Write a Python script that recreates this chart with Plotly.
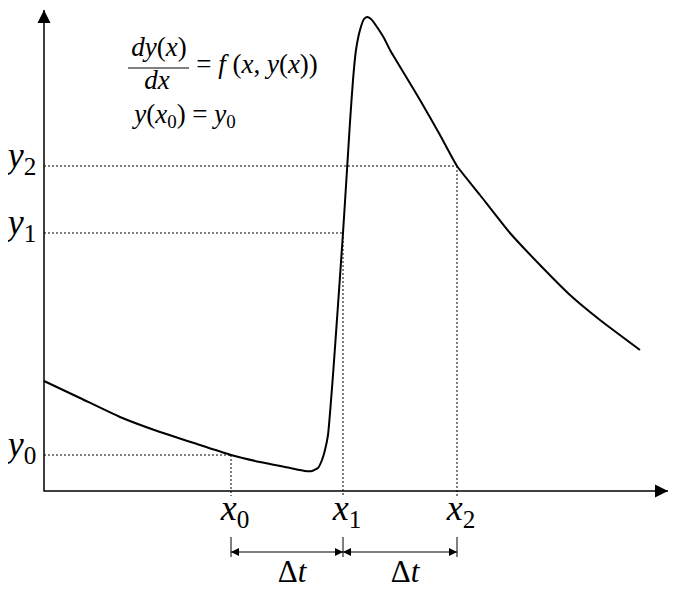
import plotly.graph_objects as go

# Curve samples (data units; origin at the axes' intersection)
curve_x = [0, 36, 76, 116, 156, 187, 216, 246, 261, 268, 274, 278, 281, 284, 289, 294, 299,
           303, 306, 309, 312, 316, 320, 323, 327, 333, 340, 346, 361, 376, 396, 413, 436,
           466, 496, 526, 556, 596]
curve_y = [110, 93, 74, 59, 46, 36, 29, 23, 20, 20, 23, 31, 41, 56, 116, 186, 258,
           321, 369, 411, 441, 461, 472, 474, 472, 464, 453, 441, 416, 391, 356, 325, 296,
           258, 226, 196, 171, 141]

# Marked steps
x_marks = [187, 299, 413]
y_marks = [36, 258, 325]
x_labels = ["<i>x</i><sub>0</sub>", "<i>x</i><sub>1</sub>", "<i>x</i><sub>2</sub>"]
y_labels = ["<i>y</i><sub>0</sub>", "<i>y</i><sub>1</sub>", "<i>y</i><sub>2</sub>"]
step_label = "Δ<i>t</i>"
eq_texts = ["<i>dy</i>(<i>x</i>)", "<i>dx</i>",
            "= <i>f</i> (<i>x</i>, <i>y</i>(<i>x</i>))",
            "<i>y</i>(<i>x</i><sub>0</sub>) = <i>y</i><sub>0</sub>"]

X_MAX = 624
Y_MAX = 481
DIM_Y = -61
FONT = "Liberation Serif"

fig = go.Figure()

# axes
fig.add_trace(go.Scatter(x=[X_MAX, 0, 0], y=[0, 0, Y_MAX], mode="lines",
                         line=dict(color="black", width=1.5), hoverinfo="skip", showlegend=False))
fig.add_trace(go.Scatter(x=[X_MAX, 0], y=[0, Y_MAX], mode="markers",
                         marker=dict(symbol=["arrow-right", "arrow-up"], size=13, color="black",
                                     line=dict(width=0)),
                         hoverinfo="skip", showlegend=False))

# dotted guides
gx, gy = [], []
for xm, ym in zip(x_marks, y_marks):
    gx += [0, xm, None, xm, xm, None]
    gy += [ym, ym, None, ym, -5, None]
fig.add_trace(go.Scatter(x=gx, y=gy, mode="lines",
                         line=dict(color="black", width=1, dash="2px,2px"),
                         hoverinfo="skip", showlegend=False))

# dimension lines, ticks and arrowheads
dx_, dy_ = [], []
for xm in x_marks:
    dx_ += [xm, xm, None]
    dy_ += [DIM_Y + 15, DIM_Y - 5, None]
dx_ += [x_marks[0], x_marks[-1]]
dy_ += [DIM_Y, DIM_Y]
fig.add_trace(go.Scatter(x=dx_, y=dy_, mode="lines", line=dict(color="black", width=1),
                         hoverinfo="skip", showlegend=False))
hx, hsym = [], []
for a, b in [(x_marks[0], x_marks[1]), (x_marks[1], x_marks[2])]:
    hx += [a, b]
    hsym += ["arrow-left", "arrow-right"]
fig.add_trace(go.Scatter(x=hx, y=[DIM_Y] * len(hx), mode="markers",
                         marker=dict(symbol=hsym, size=8, color="black", line=dict(width=0)),
                         hoverinfo="skip", showlegend=False))

# curve
fig.add_trace(go.Scatter(x=curve_x, y=curve_y, mode="lines",
                         line=dict(color="black", width=2, shape="spline", smoothing=0.5),
                         hoverinfo="skip", showlegend=False))

# fraction bar
fig.add_trace(go.Scatter(x=[84, 145], y=[423, 423], mode="lines",
                         line=dict(color="black", width=1.2), hoverinfo="skip", showlegend=False))

# texts
tx, ty, tt, ts = [], [], [], []
for xm, lab in zip(x_marks, x_labels):
    tx.append(xm + 4); ty.append(-20); tt.append(lab); ts.append(36)
for ym, lab in zip(y_marks, y_labels):
    tx.append(-22); ty.append(ym + 8); tt.append(lab); ts.append(36)
for a, b in [(x_marks[0], x_marks[1]), (x_marks[1], x_marks[2])]:
    tx.append((a + b) / 2 + 5); ty.append(-83); tt.append(step_label); ts.append(31)
eq_x = [115, 113, 213, 141]
eq_y = [442, 409, 425, 375]
for ex, ey, et in zip(eq_x, eq_y, eq_texts):
    tx.append(ex); ty.append(ey); tt.append(et); ts.append(27)

fig.add_trace(go.Scatter(x=tx, y=ty, text=tt, mode="text", textposition="middle center",
                         textfont=dict(family=FONT, size=ts, color="black"),
                         hoverinfo="skip", showlegend=False, cliponaxis=False))

# the page puts the figure 8 px from the top-left corner; ranges are set so that
# the axes' origin lands at (44, 491) in the window
fig.update_layout(
    width=676, height=590, margin=dict(l=0, r=0, t=0, b=0),
    font=dict(family=FONT, color="black"),
    paper_bgcolor="white", plot_bgcolor="white",
    xaxis=dict(range=[-36, 640], visible=False, fixedrange=True),
    yaxis=dict(range=[-107, 483], visible=False, fixedrange=True),
    showlegend=False,
)
fig.write_html("out.html")
